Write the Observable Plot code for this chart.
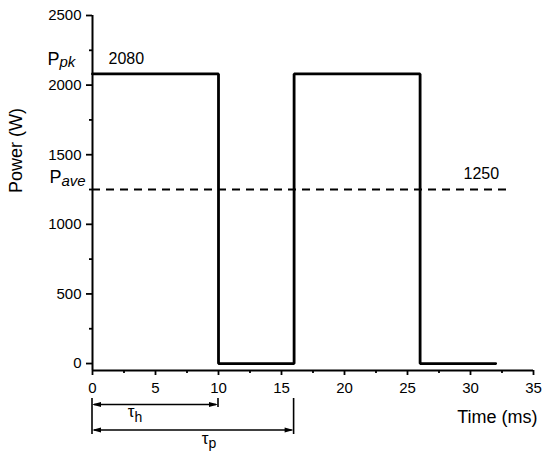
<!DOCTYPE html>
<html>
<head>
<meta charset="utf-8">
<script src="https://cdn.jsdelivr.net/npm/d3@7"></script>
<script src="https://cdn.jsdelivr.net/npm/@observablehq/plot@0.6"></script>
<style>
  html, body { margin: 0; padding: 0; background: #fff; }
  #chart { width: 550px; height: 460px; }
</style>
</head>
<body>
<div id="chart"></div>
<script>
// ---- data ----
const time  = [0, 10, 10, 16, 16, 26, 26, 32];
const power = [2080, 2080, 0, 0, 2080, 2080, 0, 0];
const peakPower = 2080;
const avePower = 1250;
const aveEnd = 33;
const tauH = 10;   // pulse on time
const tauP = 16;   // pulse period
const xDomain = [0, 35];
const yDomain = [-50, 2500];
const xMajor = [0, 5, 10, 15, 20, 25, 30, 35];
const xMinor = [2.5, 7.5, 12.5, 17.5, 22.5, 27.5, 32.5];
const yMajor = [0, 500, 1000, 1500, 2000, 2500];
const yMinor = [250, 750, 1250, 1750, 2250];
const xTitle = "Time (ms)";
const yTitle = "Power (W)";

const font = "'Liberation Sans', Arial, Helvetica, sans-serif";
const series = time.map((t, i) => ({t, p: power[i]}));
const fmt = d => String(d);

const chart = Plot.plot({
  width: 550,
  height: 460,
  marginLeft: 92,
  marginRight: 17,
  marginTop: 15,
  marginBottom: 90,
  x: {domain: xDomain},
  y: {domain: yDomain},
  style: {fontFamily: font, fontSize: "15px", color: "#000", background: "#fff", overflow: "visible"},
  marks: [
    Plot.axisX(xMajor, {tickSize: 5, tickPadding: 7, strokeWidth: 1.8, tickFormat: fmt, label: null}),
    Plot.axisX(xMinor, {tickSize: 3, strokeWidth: 1.8, tickFormat: () => "", label: null}),
    Plot.axisY(yMajor, {tickSize: 6, tickPadding: 5, strokeWidth: 1.8, tickFormat: fmt, label: null}),
    Plot.axisY(yMinor, {tickSize: 3, strokeWidth: 1.8, tickFormat: () => "", label: null}),
    Plot.ruleX([xDomain[0]], {stroke: "#000", strokeWidth: 2}),
    Plot.ruleY([yDomain[0]], {stroke: "#000", strokeWidth: 2}),
    Plot.line(series, {x: "t", y: "p", stroke: "#000", strokeWidth: 2.8, strokeLinejoin: "miter"}),
    Plot.ruleY([avePower], {x1: 0, x2: aveEnd, stroke: "#000", strokeWidth: 2, strokeDasharray: "8,6"}),
    // peak annotation
    Plot.text([peakPower], {x: 0, y: d => d, text: d => String(d), textAnchor: "start", lineAnchor: "bottom", dx: 16, dy: -9.5, fontSize: 16}),
    Plot.text([peakPower], {x: 0, y: d => d, text: () => "P", textAnchor: "start", lineAnchor: "bottom", dx: -45, dy: -8.5, fontSize: 18}),
    Plot.text([peakPower], {x: 0, y: d => d, text: () => "pk", textAnchor: "start", lineAnchor: "bottom", dx: -33, dy: -6.5, fontSize: 15, fontStyle: "italic"}),
    // average annotation
    Plot.text([avePower], {x: aveEnd, y: d => d, text: d => String(d), textAnchor: "middle", lineAnchor: "bottom", dx: -27, dy: -11, fontSize: 16}),
    Plot.text([avePower], {x: 0, y: d => d, text: () => "P", textAnchor: "start", lineAnchor: "bottom", dx: -43, dy: -7, fontSize: 18}),
    Plot.text([avePower], {x: 0, y: d => d, text: () => "ave", textAnchor: "start", lineAnchor: "bottom", dx: -31, dy: -4, fontSize: 15, fontStyle: "italic"}),
    // axis titles
    Plot.text([yTitle], {frameAnchor: "left", text: d => d, rotate: -90, dx: -76, fontSize: 18}),
    Plot.text([xTitle], {frameAnchor: "bottom-right", text: d => d, textAnchor: "end", lineAnchor: "bottom", dx: 4, dy: 52, fontSize: 18})
  ]
});

document.getElementById("chart").appendChild(chart);

// ---- dimension arrows below the axis, positioned with the plot's scales ----
const xs = chart.scale("x");
const ys = chart.scale("y");
const X = v => xs.apply(v);
const yBase = ys.apply(yDomain[0]);
const svg = d3.select(chart);
const g = svg.append("g").attr("stroke", "#000").attr("fill", "#000");

const dims = [
  {from: 0, to: tauH, level: 34.5, sym: "τ", sub: "h", lx: 43, ly: 47, sy: 52},
  {from: 0, to: tauP, level: 60, sym: "τ", sub: "p", lx: 117, ly: 74, sy: 78}
];
// extension lines
const ext = [
  {x: 0, y2: 64}, {x: tauH, y2: 37}, {x: tauP, y2: 64}
];
ext.forEach(e => {
  g.append("line").attr("x1", X(e.x)).attr("x2", X(e.x))
    .attr("y1", yBase + 28).attr("y2", yBase + e.y2).attr("stroke-width", 1.6);
});
const L = 9, W = 2.6;
dims.forEach(d => {
  const x1 = X(d.from), x2 = X(d.to), y = yBase + d.level;
  g.append("line").attr("x1", x1 + 2).attr("x2", x2 - 2).attr("y1", y).attr("y2", y).attr("stroke-width", 1.6);
  g.append("path").attr("stroke", "none")
    .attr("d", `M${x1},${y}L${x1 + L},${y - W}L${x1 + L},${y + W}Z`);
  g.append("path").attr("stroke", "none")
    .attr("d", `M${x2},${y}L${x2 - L},${y - W}L${x2 - L},${y + W}Z`);
  const t = svg.append("text").attr("font-family", font).attr("fill", "#000")
    .attr("x", X(d.from) + d.lx).attr("y", yBase + d.ly);
  t.append("tspan").attr("font-size", 17).text(d.sym);
  t.append("tspan").attr("font-size", 14).attr("dy", d.sy - d.ly).text(d.sub);
});
</script>
</body>
</html>
